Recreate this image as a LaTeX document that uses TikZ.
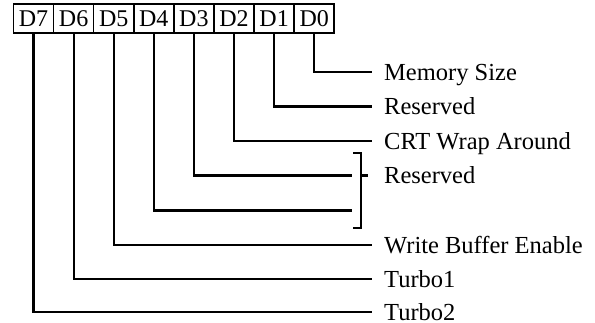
\documentclass[tikz,border=0pt]{standalone}
\usepackage{fontspec}
\setmainfont{Liberation Serif}
\begin{document}
\begin{tikzpicture}[x=1pt,y=-1pt,
  bitbox/.style={draw,line width=1.6pt,minimum width=40.1pt,minimum height=29pt,inner sep=0pt,font=\fontsize{24}{24}\selectfont},
  lbl/.style={anchor=west,inner xsep=12pt,inner ysep=0pt,text height=16pt,text depth=0pt,font=\fontsize{24.5}{24.5}\selectfont},
  wire/.style={line width=2.1pt}]
\useasboundingbox (0,0) rectangle (595,322);
\foreach \i/\n in {7/0,6/1,5/2,4/3,3/4,2/5,1/6,0/7}{
  \node[bitbox] (b\i) at ({33.5+40.1*\n},18.5) {D\i};
}
\node[lbl] (l0) at (372,72) {Memory Size};
\node[lbl] (l1) at (372,106.5) {Reserved};
\node[lbl] (l2) at (372,141) {CRT Wrap Around};
\node[lbl] (l3) at (372,175.5) {Reserved};
\node[lbl] (l5) at (372,245) {Write Buffer Enable};
\node[lbl] (l6) at (372,279) {Turbo1};
\node[lbl] (l7) at (372,312) {Turbo2};
\coordinate (c3) at (352,175.5);
\coordinate (c4) at (352,210.5);
\coordinate (bt) at (361,153);
\coordinate (bb) at (361,228);
\coordinate (bm) at (361,175.5);
\draw[wire] (b0.south) |- (l0.west);
\draw[wire] (b1.south) |- (l1.west);
\draw[wire] (b2.south) |- (l2.west);
\draw[wire] (b3.south) |- (c3);
\draw[wire] (b4.south) |- (c4);
\draw[wire] (b5.south) |- (l5.west);
\draw[wire] (b6.south) |- (l6.west);
\draw[wire] (b7.south) |- (l7.west);
\draw[wire] ([xshift=-8pt]bt) -- (bt) -- (bb) -- ([xshift=-8pt]bb);
\draw[wire] (bm) -- ([xshift=7pt]bm);
\end{tikzpicture}
\end{document}
